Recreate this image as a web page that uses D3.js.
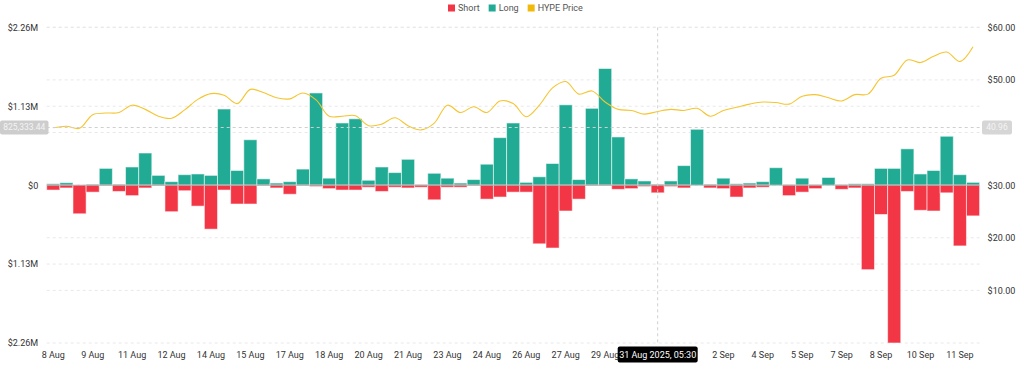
<!DOCTYPE html>
<html>
<head>
<meta charset="utf-8">
<script src="https://cdn.jsdelivr.net/npm/d3@7"></script>
<style>
  body { margin: 0; background: #fff; }
  svg text { font-family: Roboto, "Noto Sans", sans-serif; }
</style>
</head>
<body>
<script>
// #region DATA
// 12h buckets starting 8 Aug 2025 05:30 (IST), values in $M
var startTime = Date.UTC(2025, 7, 8, 5, 30);
var longVals = [
    0.02, 0.035, 0.00, 0.015, 0.24, 0.015, 0.26, 0.46, 0.14, 0.05,
    0.15, 0.16, 0.14, 1.09, 0.21, 0.65, 0.09, 0.03, 0.05, 0.23,
    1.32, 0.10, 0.89, 0.95, 0.07, 0.26, 0.18, 0.37, 0.01, 0.17,
    0.10, 0.03, 0.08, 0.30, 0.68, 0.89, 0.04, 0.12, 0.31, 1.15,
    0.08, 1.10, 1.67, 0.69, 0.09, 0.06, 0.015, 0.06, 0.28, 0.80,
    0.015, 0.10, 0.02, 0.03, 0.05, 0.25, 0.01, 0.10, 0.01, 0.11,
    0.01, 0.02, 0.02, 0.24, 0.24, 0.52, 0.16, 0.21, 0.70, 0.15,
    0.04
];
var shortVals = [
    0.07, 0.04, 0.41, 0.10, 0.01, 0.09, 0.15, 0.04, 0.01, 0.38,
    0.08, 0.30, 0.63, 0.07, 0.27, 0.27, 0.01, 0.04, 0.13, 0.01,
    0.02, 0.05, 0.07, 0.07, 0.03, 0.09, 0.03, 0.04, 0.03, 0.21,
    0.03, 0.03, 0.01, 0.20, 0.17, 0.10, 0.10, 0.84, 0.90, 0.37,
    0.20, 0.01, 0.01, 0.06, 0.05, 0.02, 0.11, 0.02, 0.04, 0.00,
    0.04, 0.05, 0.17, 0.04, 0.03, 0.00, 0.15, 0.10, 0.05, 0.00,
    0.06, 0.04, 1.21, 0.42, 2.26, 0.09, 0.36, 0.37, 0.11, 0.87,
    0.44
];
var hypePrice = [
    40.9, 41.2, 40.8, 43.4, 43.7, 43.8, 45.2, 44.4, 43.1, 42.7,
    44.3, 46.3, 47.4, 47.1, 45.5, 48.2, 47.6, 46.6, 46.4, 47.5,
    46.2, 43.1, 43.1, 43.2, 41.3, 41.6, 42.8, 41.3, 40.5, 41.8,
    45.2, 43.8, 44.9, 43.8, 46.0, 45.5, 43.0, 45.2, 48.5, 49.7,
    47.3, 47.9, 45.8, 44.4, 44.2, 43.5, 44.0, 44.4, 44.2, 44.6,
    43.1, 44.2, 44.8, 45.4, 45.8, 45.7, 45.4, 46.9, 47.2, 46.6,
    46.0, 47.2, 47.3, 50.3, 50.9, 53.8, 53.3, 54.5, 55.3, 53.5,
    56.3
];
var leftTicks = [-2.26, -1.13, 0, 1.13, 2.26];
var rightTicks = [10, 20, 30, 40, 50, 60];
var legendItems = [
    {name: "Short", color: "#f23645"},
    {name: "Long", color: "#22ab94"},
    {name: "HYPE Price", color: "#f0b90b"}
];
var hoverIndex = 46;
var hoverLeft = "825,333.44";
var hoverRight = "40.96";
var hoverDate = "31 Aug 2025, 05:30";
// #endregion

// #region SETUP
var width = 1024, height = 378;
var margin = {left: 46.7, right: 44.4, top: 27.3, bottom: 35};

var svg = d3.select("body")
    .append("svg")
    .attr("width", width)
    .attr("height", height);

var times = longVals.map((d, i) => d3.utcHour.offset(startTime, 12 * i));

var x = d3.scaleBand()
    .domain(times.map((d, i) => i))
    .range([margin.left, width - margin.right])
    .padding(0);

var yL = d3.scaleLinear()
    .domain([-2.26, 2.26])
    .range([height - margin.bottom, margin.top]);

var yR = d3.scaleLinear()
    .domain([0, 60])
    .range([height - margin.bottom, margin.top]);

var fmtDay = d3.utcFormat("%-d %b");
var hx = x(hoverIndex) + x.bandwidth() / 2;
// #endregion

// #region GRID
var grid = svg.append("g").attr("id", "grid");

grid.selectAll("line.gl")
    .data(leftTicks)
    .enter()
    .append("line")
        .attr("x1", margin.left)
        .attr("x2", width - margin.right)
        .attr("y1", d => yL(d))
        .attr("y2", d => yL(d))
        .attr("stroke", "#e8e8e8")
        .attr("stroke-dasharray", "3,3");

grid.selectAll("line.gr")
    .data(rightTicks)
    .enter()
    .append("line")
        .attr("x1", margin.left)
        .attr("x2", width - margin.right)
        .attr("y1", d => yR(d))
        .attr("y2", d => yR(d))
        .attr("stroke", "#e8e8e8")
        .attr("stroke-dasharray", "3,3");
// #endregion

// #region BARS
var bars = svg.append("g").attr("id", "bars");

bars.selectAll("rect.long")
    .data(longVals)
    .enter()
    .append("rect")
        .attr("x", (d, i) => x(i))
        .attr("y", d => yL(d))
        .attr("width", x.bandwidth())
        .attr("height", d => yL(0) - yL(d))
        .attr("fill", "#22ab94")
        .attr("stroke", "rgba(255,255,255,0.55)")
        .attr("stroke-width", 1);

bars.selectAll("rect.short")
    .data(shortVals)
    .enter()
    .append("rect")
        .attr("x", (d, i) => x(i))
        .attr("y", yL(0))
        .attr("width", x.bandwidth())
        .attr("height", d => yL(-d) - yL(0))
        .attr("fill", "#f23645")
        .attr("stroke", "rgba(255,255,255,0.55)")
        .attr("stroke-width", 1);

svg.append("line")
    .attr("x1", margin.left)
    .attr("x2", width - margin.right)
    .attr("y1", yL(0))
    .attr("y2", yL(0))
    .attr("stroke", "#9a9a9a")
    .attr("stroke-opacity", 0.6);
// #endregion

// #region PRICE LINE
var priceLine = d3.line()
    .x((d, i) => x(i) + x.bandwidth() / 2)
    .y(d => yR(d))
    .curve(d3.curveCatmullRom);

svg.append("path")
    .datum(hypePrice)
    .attr("d", priceLine)
    .attr("fill", "none")
    .attr("stroke", "#f5c531")
    .attr("stroke-width", 1.1);
// #endregion

// #region AXES
var leftAxis = svg.append("g")
    .attr("transform", "translate(" + (margin.left - 5.5) + ",0)")
    .call(d3.axisLeft(yL).tickValues(leftTicks).tickSize(0)
        .tickFormat(d => d == 0 ? "$0" : "$" + Math.abs(d).toFixed(2) + "M"));

var rightAxis = svg.append("g")
    .attr("transform", "translate(" + (width - margin.right + 5) + ",0)")
    .call(d3.axisRight(yR).tickValues(rightTicks.filter(d => d != 40)).tickSize(0)
        .tickFormat(d => "$" + d.toFixed(2)));

// date ticks every 3rd bucket, minus the ones hidden under the hover label
var dateTicks = x.domain().filter(i => i % 3 == 0 && Math.abs(x(i) + x.bandwidth() / 2 - hx) > 45);

var bottomAxis = svg.append("g")
    .attr("transform", "translate(0," + (height - margin.bottom + 4) + ")")
    .call(d3.axisBottom(x).tickValues(dateTicks).tickSize(0)
        .tickFormat(i => fmtDay(times[i])));

[leftAxis, rightAxis, bottomAxis].forEach(function(a) {
    a.select(".domain").remove();
    a.selectAll("text")
        .attr("fill", "#333")
        .style("font-size", "9px")
        .style("font-family", "Roboto, sans-serif");
});
bottomAxis.selectAll("text").attr("dy", "0.9em");
// #endregion

// #region CROSSHAIR
var hy = yL(0.8253);

svg.append("line")
    .attr("x1", hx).attr("x2", hx)
    .attr("y1", margin.top).attr("y2", height - margin.bottom)
    .attr("stroke", "#cfcfcf")
    .attr("stroke-dasharray", "3,3");

svg.append("line")
    .attr("x1", margin.left).attr("x2", width - margin.right)
    .attr("y1", hy).attr("y2", hy)
    .attr("stroke", "#cfcfcf")
    .attr("stroke-dasharray", "3,3");

var lbl = svg.append("g");
lbl.append("rect")
    .attr("x", 0).attr("y", hy - 7).attr("width", 48.5).attr("height", 14)
    .attr("rx", 2).attr("fill", "#cdcdcd");
lbl.append("text")
    .attr("x", 24.3).attr("y", hy)
    .attr("dy", "0.35em")
    .attr("text-anchor", "middle")
    .attr("fill", "#f4f4f4")
    .style("font-size", "8.5px")
    .text(hoverLeft);

lbl.append("rect")
    .attr("x", 982).attr("y", hy - 7).attr("width", 30).attr("height", 14)
    .attr("rx", 2).attr("fill", "#d6d6d6");
lbl.append("text")
    .attr("x", 997).attr("y", hy)
    .attr("dy", "0.35em")
    .attr("text-anchor", "middle")
    .attr("fill", "#f4f4f4")
    .style("font-size", "8.5px")
    .text(hoverRight);

lbl.append("rect")
    .attr("x", hx - 40).attr("y", 346.5).attr("width", 80).attr("height", 16)
    .attr("rx", 2).attr("fill", "#000");
lbl.append("text")
    .attr("x", hx).attr("y", 354.5)
    .attr("dy", "0.35em")
    .attr("text-anchor", "middle")
    .attr("fill", "#fff")
    .style("font-size", "9px")
    .text(hoverDate);
// #endregion

// #region LEGEND
var legend = svg.append("g")
    .attr("transform", "translate(448,8)");
var lx = 0;
legendItems.forEach(function(item) {
    var g = legend.append("g").attr("transform", "translate(" + lx + ",0)");
    g.append("rect")
        .attr("x", 0).attr("y", -3.5).attr("width", 7).attr("height", 7)
        .attr("fill", item.color);
    var t = g.append("text")
        .attr("x", 10).attr("y", 0)
        .attr("dy", "0.35em")
        .attr("fill", "#555")
        .style("font-size", "9px")
        .text(item.name);
    lx += 10 + t.node().getComputedTextLength() + 9;
});
// #endregion
</script>
</body>
</html>
